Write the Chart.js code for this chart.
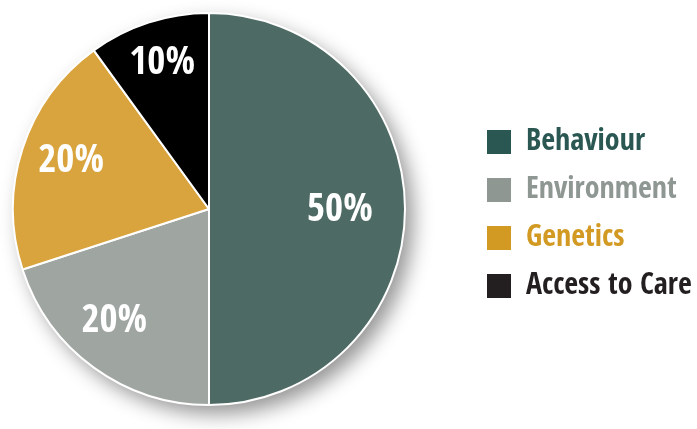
<!DOCTYPE html>
<html>
<head>
<meta charset="utf-8">
<script src="https://cdn.jsdelivr.net/npm/chart.js@4.4.1/dist/chart.umd.min.js"></script>
<style>
  html, body { margin: 0; padding: 0; background: #ffffff; }
  #wrap { width: 697px; height: 429px; position: relative; }
</style>
</head>
<body>
<div id="wrap"><canvas id="c" width="697" height="429"></canvas></div>
<script>
const categories = ['Behaviour', 'Environment', 'Genetics', 'Access to Care'];
const shares = [50, 20, 20, 10];
const valueLabels = ['50%', '20%', '20%', '10%'];

const sliceColors = ['#4e6a64', '#9fa5a1', '#d9a43e', '#000000'];
const legendColors = ['#2a5752', '#8f9793', '#d29a22', '#231f20'];
const labelFont = '"Open Sans Condensed", "Roboto Condensed", "DejaVu Sans", sans-serif';

// Geometry of the layout (styling, not data)
const PIE = { left: 12, top: 12, size: 394 };
const LEGEND_LEFT = 469;
const LEGEND_SHIFT_Y = 5;
const labelPlacement = [
  { f: 0.668, da: -1 },
  { f: 0.737, da: 5 },
  { f: 0.75, da: 2.3 },
  { f: 0.795, da: 0.5 }
];

const layoutPlugin = {
  id: 'fixedLayout',
  afterLayout(chart) {
    const a = chart.chartArea;
    a.left = PIE.left; a.top = PIE.top;
    a.right = PIE.left + PIE.size; a.bottom = PIE.top + PIE.size;
    a.width = PIE.size; a.height = PIE.size;
    const lg = chart.legend;
    const w = lg.width;
    lg.left = LEGEND_LEFT; lg.right = LEGEND_LEFT + w;
    lg.top += LEGEND_SHIFT_Y; lg.bottom += LEGEND_SHIFT_Y;
  }
};

const shadowPlugin = {
  id: 'pieShadow',
  beforeDatasetsDraw(chart) {
    const arc = chart.getDatasetMeta(0).data[0];
    if (!arc) return;
    const ctx = chart.ctx;
    ctx.save();
    ctx.shadowColor = 'rgba(0,0,0,0.42)';
    ctx.shadowBlur = 20;
    ctx.shadowOffsetX = 8;
    ctx.shadowOffsetY = 9;
    ctx.fillStyle = '#ffffff';
    ctx.beginPath();
    ctx.arc(arc.x, arc.y, arc.outerRadius, 0, Math.PI * 2);
    ctx.fill();
    ctx.restore();
  }
};

const valueLabelPlugin = {
  id: 'valueLabels',
  afterDatasetsDraw(chart) {
    const ctx = chart.ctx;
    const meta = chart.getDatasetMeta(0);
    ctx.save();
    ctx.fillStyle = '#ffffff';
    ctx.font = 'bold 39px ' + labelFont;
    ctx.textAlign = 'center';
    ctx.textBaseline = 'alphabetic';
    const capH = ctx.measureText('0').actualBoundingBoxAscent;
    meta.data.forEach((arc, i) => {
      const p = labelPlacement[i];
      const mid = (arc.startAngle + arc.endAngle) / 2 + p.da * Math.PI / 180;
      const r = arc.outerRadius * p.f;
      ctx.fillText(valueLabels[i], arc.x + Math.cos(mid) * r, arc.y + Math.sin(mid) * r + capH / 2);
    });
    ctx.restore();
  }
};

new Chart(document.getElementById('c'), {
  type: 'pie',
  data: {
    labels: categories,
    datasets: [{
      data: shares,
      backgroundColor: sliceColors,
      borderColor: '#ffffff',
      borderWidth: 2
    }]
  },
  options: {
    responsive: false,
    animation: false,
    layout: { padding: { top: 12, bottom: 23, left: 12, right: 0 } },
    plugins: {
      tooltip: { enabled: false },
      legend: {
        position: 'right',
        align: 'center',
        labels: {
          boxWidth: 24,
          boxHeight: 24,
          padding: 18,
          font: { family: labelFont, size: 30, weight: 'bold' },
          generateLabels(chart) {
            return chart.data.labels.map((t, i) => ({
              text: t,
              fillStyle: legendColors[i],
              strokeStyle: legendColors[i],
              lineWidth: 0,
              fontColor: legendColors[i],
              hidden: false,
              index: i
            }));
          }
        }
      }
    }
  },
  plugins: [layoutPlugin, shadowPlugin, valueLabelPlugin]
});
</script>
</body>
</html>
